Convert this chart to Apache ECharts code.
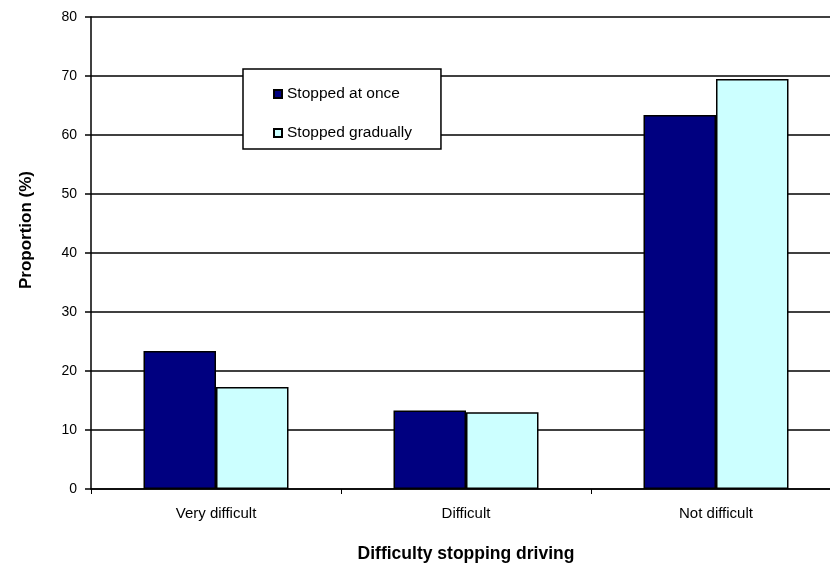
<!DOCTYPE html>
<html>
<head>
<meta charset="utf-8">
<script src="https://cdn.jsdelivr.net/npm/echarts@6/dist/echarts.min.js"></script>
<style>html,body{margin:0;padding:0;background:#fff}#c{width:830px;height:564px}</style>
</head>
<body>
<div id="c"></div>
<script>
var categories = ['Very difficult', 'Difficult', 'Not difficult'];
var stoppedAtOnce = [23.4, 13.3, 63.4];
var stoppedGradually = [17.3, 13.0, 69.5];
var yTicks = [0, 10, 20, 30, 40, 50, 60, 70, 80];
var seriesNames = ['Stopped at once', 'Stopped gradually'];

var font = 'Liberation Sans, Arial, sans-serif';
var chart = echarts.init(document.getElementById('c'), null, {renderer: 'canvas'});
chart.setOption({
  animation: false,
  backgroundColor: '#fff',
  grid: {left: 91, top: 17, width: 750, height: 472, containLabel: false, outerBoundsMode: 'none'},
  legend: {
    orient: 'vertical',
    left: 243, top: 69,
    padding: [17, 29, 8, 30],
    itemGap: 23,
    itemWidth: 8, itemHeight: 8,
    backgroundColor: '#fff',
    borderColor: '#000', borderWidth: 1.5,
    icon: 'rect',
    textStyle: {fontFamily: font, fontSize: 15.5, color: '#000'},
    data: seriesNames
  },
  xAxis: {
    type: 'category', data: categories,
    axisLine: {lineStyle: {color: '#000', width: 1.5}},
    axisTick: {show: true, length: 5, alignWithLabel: false, lineStyle: {color: '#000', width: 1}},
    axisLabel: {fontFamily: font, fontSize: 15, color: '#000', margin: 17},
    splitLine: {show: false},
    name: 'Difficulty stopping driving', nameLocation: 'middle', nameGap: 56,
    nameTextStyle: {fontFamily: font, fontSize: 17.5, fontWeight: 'bold', color: '#000'}
  },
  yAxis: {
    type: 'value', min: yTicks[0], max: yTicks[yTicks.length - 1], interval: yTicks[1] - yTicks[0],
    axisLine: {show: true, lineStyle: {color: '#000', width: 1.5}},
    axisTick: {show: true, length: 6, lineStyle: {color: '#000', width: 1.5}},
    axisLabel: {fontFamily: font, fontSize: 14, color: '#000', margin: 14},
    splitLine: {show: true, lineStyle: {color: '#000', width: 1.5}},
    name: 'Proportion (%)', nameLocation: 'middle', nameGap: 56, nameRotate: 90,
    nameTextStyle: {fontFamily: font, fontSize: 17, fontWeight: 'bold', color: '#000', padding: [0, 0, 0, 46]}
  },
  series: [
    {name: seriesNames[0], type: 'bar', data: stoppedAtOnce,
     barGap: '0%', barCategoryGap: '42%',
     itemStyle: {color: '#000080', borderColor: '#000', borderWidth: 1.5}},
    {name: seriesNames[1], type: 'bar', data: stoppedGradually,
     barGap: '0%', barCategoryGap: '42%',
     itemStyle: {color: '#CCFFFF', borderColor: '#000', borderWidth: 1.5}}
  ]
});
</script>
</body>
</html>
